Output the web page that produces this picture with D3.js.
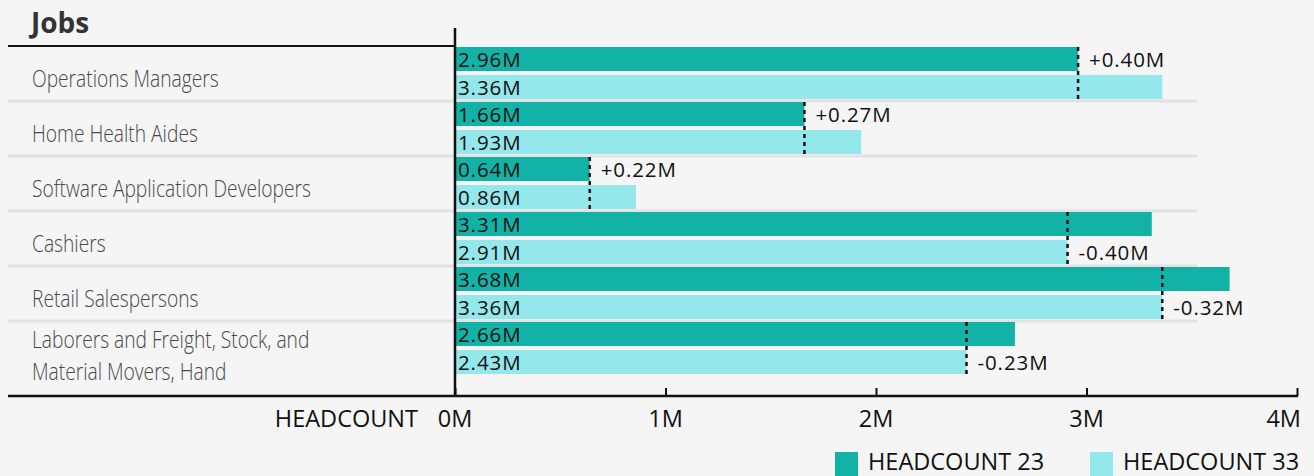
<!DOCTYPE html>
<html>
<head>
<meta charset="utf-8">
<script src="https://cdn.jsdelivr.net/npm/d3@7"></script>
<style>
  html, body { margin: 0; padding: 0; background: #f5f5f5; }
  svg { display: block; }
  .cat { font-family: "Open Sans", sans-serif; font-weight: 300; font-size: 24px; fill: #484848; }
  .num { font-family: "Open Sans", sans-serif; font-size: 20.5px; letter-spacing: 0.9px; fill: #111; }
  .axl { font-family: "Open Sans", sans-serif; font-size: 23.5px; fill: #111; }
</style>
</head>
<body>
<svg id="chart" width="1314" height="476"></svg>
<script>
var jobs = [
    ["Operations Managers"],
    ["Home Health Aides"],
    ["Software Application Developers"],
    ["Cashiers"],
    ["Retail Salespersons"],
    ["Laborers and Freight, Stock, and", "Material Movers, Hand"]
];
var headcount23 = [2.96, 1.66, 0.64, 3.31, 3.68, 2.66];
var headcount33 = [3.36, 1.93, 0.86, 2.91, 3.36, 2.43];
var changes = ["+0.40M", "+0.27M", "+0.22M", "-0.40M", "-0.32M", "-0.23M"];
var ticks = [0, 1, 2, 3, 4];
var seriesNames = ["HEADCOUNT 23", "HEADCOUNT 33"];
var colors = ["#13b2a6", "#94e7eb"];

var svg = d3.select("#chart");

var rows = jobs.map(function(j, i) {
    return {key: i, lines: j, a: headcount23[i], b: headcount33[i], change: changes[i]};
});

var x = d3.scaleLinear().domain([0, 4]).range([455, 1297]);
var y = d3.scaleBand().domain(d3.range(rows.length)).range([46, 376]);

// title
svg.append("text")
    .attr("x", 31).attr("y", 33)
    .style("font-family", "'Open Sans', sans-serif")
    .style("font-weight", "bold")
    .style("font-size", "28px")
    .style("fill", "#333")
    .text("Jobs");

// row separators
svg.append("g")
    .selectAll("line")
    .data(rows.slice(0, rows.length - 1))
    .enter()
    .append("line")
    .attr("x1", 8).attr("x2", 1197)
    .attr("y1", function(d) { return y(d.key) + y.bandwidth(); })
    .attr("y2", function(d) { return y(d.key) + y.bandwidth(); })
    .style("stroke", "#e2e2e2")
    .attr("stroke-width", 3);

// category labels (condensed look)
var cat = svg.append("g")
    .selectAll("text")
    .data(rows)
    .enter()
    .append("text")
    .attr("class", "cat")
    .attr("transform", function(d) {
        var yy = y(d.key) + y.bandwidth() / 2 + 13.5 - 14 * (d.lines.length - 1);
        return "translate(32," + yy + ") scale(0.8,1)";
    });
cat.selectAll("tspan")
    .data(function(d) { return d.lines; })
    .enter()
    .append("tspan")
    .attr("x", 0)
    .attr("dy", function(d, i) { return i === 0 ? 0 : 32; })
    .text(function(d) { return d; });

// bars
var barH = 24;
var bars = svg.append("g");
bars.selectAll("rect.a")
    .data(rows)
    .enter()
    .append("rect")
    .attr("x", x(0) + 1)
    .attr("y", function(d) { return y(d.key) + 1; })
    .attr("width", function(d) { return x(d.a) - x(0) - 1; })
    .attr("height", barH)
    .attr("fill", colors[0]);
bars.selectAll("rect.b")
    .data(rows)
    .enter()
    .append("rect")
    .attr("x", x(0) + 1)
    .attr("y", function(d) { return y(d.key) + 29; })
    .attr("width", function(d) { return x(d.b) - x(0) - 1; })
    .attr("height", barH)
    .attr("fill", colors[1]);

// value labels inside bars
bars.selectAll("text.a")
    .data(rows)
    .enter()
    .append("text")
    .attr("class", "num")
    .attr("x", x(0) + 3)
    .attr("y", function(d) { return y(d.key) + 20.5; })
    .text(function(d) { return d.a.toFixed(2) + "M"; });
bars.selectAll("text.b")
    .data(rows)
    .enter()
    .append("text")
    .attr("class", "num")
    .attr("x", x(0) + 3)
    .attr("y", function(d) { return y(d.key) + 48.5; })
    .text(function(d) { return d.b.toFixed(2) + "M"; });

// change markers
var marks = svg.append("g");
marks.selectAll("line")
    .data(rows)
    .enter()
    .append("line")
    .attr("x1", function(d) { return x(Math.min(d.a, d.b)); })
    .attr("x2", function(d) { return x(Math.min(d.a, d.b)); })
    .attr("y1", function(d) { return y(d.key) + 1; })
    .attr("y2", function(d) { return y(d.key) + 53; })
    .style("stroke", "#111")
    .attr("stroke-width", 2.5)
    .attr("stroke-dasharray", "4,4");
marks.selectAll("text")
    .data(rows)
    .enter()
    .append("text")
    .attr("class", "num")
    .attr("x", function(d) { return x(Math.min(d.a, d.b)) + 11; })
    .attr("y", function(d) { return y(d.key) + (d.b > d.a ? 20.5 : 48.5); })
    .text(function(d) { return d.change; });

// top line + vertical axis
svg.append("line")
    .attr("x1", 8).attr("x2", 456).attr("y1", 46).attr("y2", 46)
    .style("stroke", "#111").attr("stroke-width", 2);
svg.append("line")
    .attr("x1", x(0)).attr("x2", x(0)).attr("y1", 28).attr("y2", 397)
    .style("stroke", "#111").attr("stroke-width", 2.5);

// bottom axis
var axis = svg.append("g")
    .attr("transform", "translate(0,396)")
    .call(d3.axisTop(x).tickValues(ticks).tickSize(8).tickFormat(function() { return ""; }));
axis.select(".domain").remove();
axis.selectAll(".tick line").style("stroke", "#111").attr("stroke-width", 2);
svg.append("line")
    .attr("x1", 8).attr("x2", 1298).attr("y1", 396).attr("y2", 396)
    .style("stroke", "#111").attr("stroke-width", 2.5);

svg.append("g")
    .selectAll("text")
    .data(ticks)
    .enter()
    .append("text")
    .attr("class", "axl")
    .attr("x", function(d) { return x(d); })
    .attr("y", 427)
    .attr("text-anchor", function(d) { return d === 4 ? "end" : "middle"; })
    .attr("dx", function(d) { return d === 4 ? 4 : 0; })
    .text(function(d) { return d + "M"; });

svg.append("text")
    .attr("class", "axl")
    .attr("x", 418).attr("y", 427)
    .attr("text-anchor", "end")
    .text("HEADCOUNT");

// legend
var legX = [835, 1090];
var leg = svg.append("g")
    .selectAll("g")
    .data(seriesNames)
    .enter()
    .append("g")
    .attr("transform", function(d, i) { return "translate(" + legX[i] + ",452)"; });
leg.append("rect")
    .attr("width", 23).attr("height", 24)
    .attr("fill", function(d, i) { return colors[i]; });
leg.append("text")
    .attr("class", "axl")
    .attr("x", 33).attr("y", 18)
    .text(function(d) { return d; });
</script>
</body>
</html>
